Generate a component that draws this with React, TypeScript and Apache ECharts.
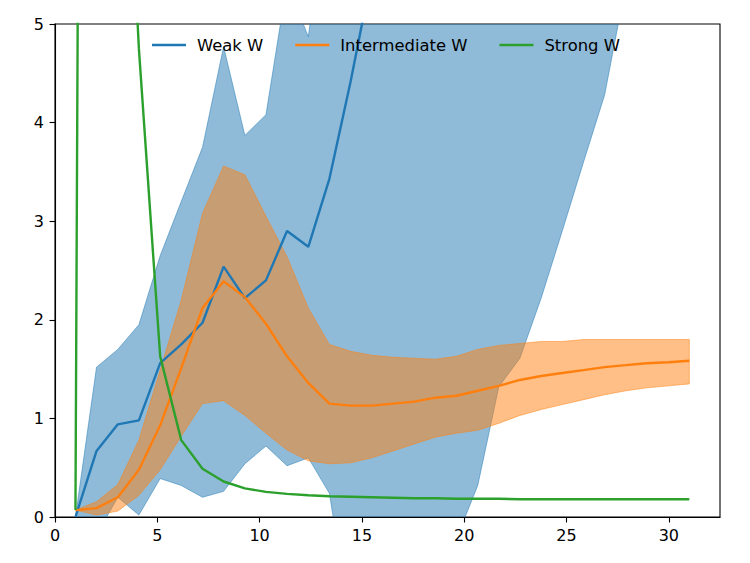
import React, { useEffect, useRef } from "react";
import * as echarts from "echarts";

// x positions of the 30 samples
const xs = [1, 2.03, 3.07, 4.1, 5.14, 6.17, 7.21, 8.24, 9.28, 10.31, 11.34, 12.38, 13.41, 14.45, 15.48,
  16.52, 17.55, 18.59, 19.62, 20.66, 21.69, 22.72, 23.76, 24.79, 25.83, 26.86, 27.9, 28.93, 29.97, 31];

// Weak W
const weakMean = [0, 0.67, 0.94, 0.98, 1.56, 1.75, 1.97, 2.54, 2.22, 2.4, 2.9, 2.74, 3.43, 4.42, 5.5,
  6.6, 7.8, 9.0, 10.2, 11.5, 12.8, 14.0, 15.3, 16.5, 17.8, 19.0, 20.2, 21.4, 22.6, 23.8];
const weakLower = [0, -0.18, 0.2, 0.02, 0.39, 0.32, 0.2, 0.26, 0.54, 0.72, 0.52, 0.6, 0.24, -1.1, -2.5,
  -3.2, -3.4, -2.6, -0.22, 0.32, 1.32, 1.61, 2.22, 2.9, 3.6, 4.28, 5.4, 6.5, 7.6, 8.7];
const weakUpper = [0, 1.52, 1.7, 1.95, 2.65, 3.2, 3.75, 4.77, 3.87, 4.08, 5.42, 4.87, 6.5, 8.0, 9.4,
  10.8, 12.2, 13.6, 15.0, 16.5, 18.0, 19.5, 21.0, 22.5, 24.0, 25.5, 27.0, 28.5, 30.0, 31.5];

// Intermediate W
const interMean = [0.07, 0.09, 0.2, 0.48, 0.93, 1.51, 2.12, 2.39, 2.23, 1.96, 1.63, 1.36, 1.15, 1.13, 1.13,
  1.15, 1.17, 1.21, 1.23, 1.28, 1.33, 1.39, 1.43, 1.46, 1.49, 1.52, 1.54, 1.56, 1.57, 1.585];
const interLower = [0.07, 0.02, 0.06, 0.22, 0.48, 0.82, 1.15, 1.18, 1.03, 0.85, 0.68, 0.57, 0.54, 0.55, 0.6,
  0.67, 0.74, 0.81, 0.85, 0.88, 0.95, 1.03, 1.09, 1.14, 1.19, 1.24, 1.28, 1.31, 1.33, 1.35];
const interUpper = [0.07, 0.155, 0.33, 0.78, 1.49, 2.2, 3.08, 3.56, 3.47, 3.05, 2.64, 2.12, 1.75, 1.68, 1.64,
  1.62, 1.61, 1.6, 1.63, 1.7, 1.74, 1.76, 1.78, 1.78, 1.8, 1.8, 1.8, 1.8, 1.8, 1.8];

// Strong W
const strongMean = [0.07, 47, 9, 4.75, 1.63, 0.78, 0.49, 0.36, 0.29, 0.255, 0.235, 0.22, 0.21, 0.205, 0.2,
  0.195, 0.19, 0.19, 0.185, 0.185, 0.185, 0.18, 0.18, 0.18, 0.18, 0.18, 0.18, 0.18, 0.18, 0.18];

const xTicks = [0, 5, 10, 15, 20, 25, 30];
const seriesNames = ["Weak W", "Intermediate W", "Strong W"];
const colors = ["#1f77b4", "#ff7f0e", "#2ca02c"];

const FONT = "DejaVu Sans";

function band(lower: number[], upper: number[], rgb: string) {
  return {
    type: "custom",
    silent: true,
    clip: true,
    z: 1,
    data: xs.map((x, i) => [x, lower[i], upper[i]]),
    encode: { x: 0, y: [1, 2] },
    renderItem: (params: any, api: any) => {
      if (params.dataIndex !== 0) return null;
      const pts: number[][] = [];
      for (let i = 0; i < xs.length; i++) pts.push(api.coord([xs[i], upper[i]]));
      for (let i = xs.length - 1; i >= 0; i--) pts.push(api.coord([xs[i], lower[i]]));
      const cs = params.coordSys;
      return {
        type: "polygon",
        shape: { points: pts },
        style: { fill: `rgba(${rgb},0.5)`, stroke: `rgba(${rgb},0.5)`, lineWidth: 1 },
        clipPath: { type: "rect", shape: { x: cs.x, y: cs.y, width: cs.width, height: cs.height } },
      };
    },
  };
}

function line(name: string, ys: number[], color: string, z: number) {
  return {
    type: "line",
    name,
    data: xs.map((x, i) => [x, ys[i]]),
    showSymbol: false,
    symbol: "none",
    clip: true,
    z,
    itemStyle: { color },
    lineStyle: { color, width: 2.4 },
  };
}

export default function App() {
  const ref = useRef<HTMLDivElement>(null);
  useEffect(() => {
    if (!ref.current) return;
    const chart = echarts.init(ref.current, null, { renderer: "svg" });
    const axisCommon = {
      axisLine: { show: true, lineStyle: { color: "#000", width: 1.1 } },
      splitLine: { show: false },
    };
    chart.setOption({
      animation: false,
      backgroundColor: "#fff",
      grid: {
        left: 55, top: 24, width: 665, height: 493,
        show: true, borderColor: "#000", borderWidth: 1.1, backgroundColor: "transparent",
      },
      legend: {
        data: seriesNames,
        left: 147,
        top: 32,
        icon: "rect",
        itemWidth: 34,
        itemHeight: 2.4,
        itemGap: 32,
        textStyle: { color: "#000", fontFamily: FONT, fontSize: 16.4, padding: [0, 0, 0, 6] },
      },
      xAxis: {
        type: "value",
        min: 0,
        max: 32.5,
        interval: 5,
        ...axisCommon,
        axisTick: { show: true, length: 5.5, lineStyle: { color: "#000", width: 1.1 }, customValues: xTicks },
        axisLabel: { color: "#000", fontFamily: FONT, fontSize: 16, margin: 10, customValues: xTicks },
      },
      yAxis: {
        type: "value",
        min: 0,
        max: 5,
        interval: 1,
        ...axisCommon,
        axisTick: { show: true, length: 5.5, lineStyle: { color: "#000", width: 1.1 } },
        axisLabel: { color: "#000", fontFamily: FONT, fontSize: 16, margin: 11 },
      },
      series: [
        band(weakLower, weakUpper, "31,119,180"),
        band(interLower, interUpper, "255,127,14"),
        line(seriesNames[0], weakMean, colors[0], 3),
        line(seriesNames[1], interMean, colors[1], 4),
        line(seriesNames[2], strongMean, colors[2], 5),
      ],
    });
    return () => chart.dispose();
  }, []);
  return (
    <div
      ref={ref}
      style={{ position: "absolute", left: 0, top: 0, width: 750, height: 563, background: "#fff" }}
    />
  );
}
